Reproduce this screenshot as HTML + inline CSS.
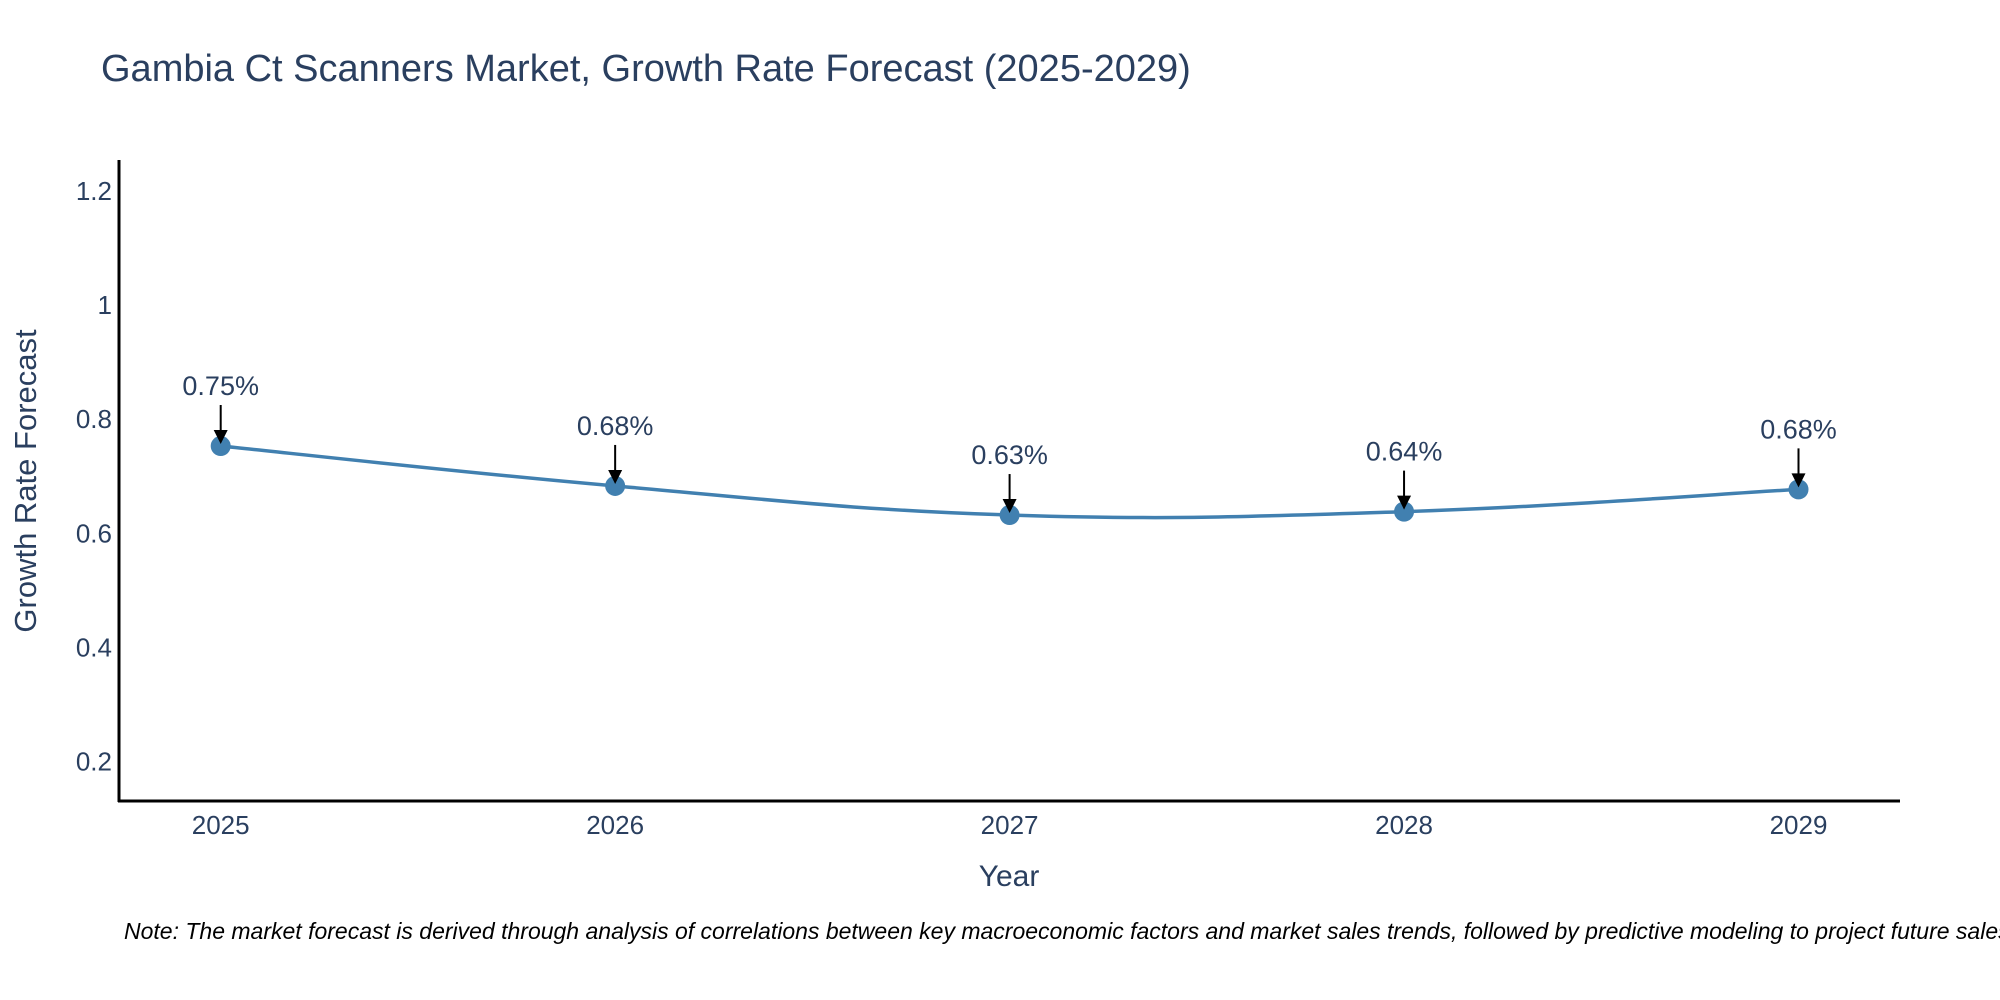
<!DOCTYPE html>
<html><head><meta charset="utf-8"><style>
body{margin:0;background:#fff;}
svg{display:block;font-family:"Liberation Sans","DejaVu Sans",sans-serif;}
</style></head><body>
<svg id="chart" width="2000" height="1000" viewBox="0 0 2000 1000">
<text x="101" y="81" font-size="38" fill="#2a3f5f">Gambia Ct Scanners Market, Growth Rate Forecast (2025-2029)</text>
<g id="yticks"></g>
<g id="xticks"></g>
<line x1="119" y1="160" x2="119" y2="802" stroke="#000" stroke-width="3"/>
<line x1="118" y1="801" x2="1900" y2="801" stroke="#000" stroke-width="3"/>
<text transform="translate(36,481) rotate(-90)" text-anchor="middle" font-size="31" fill="#2a3f5f">Growth Rate Forecast</text>
<text x="1009" y="886" text-anchor="middle" font-size="30" fill="#2a3f5f">Year</text>
<g id="series"></g>
<text x="124" y="939" font-size="23" font-style="italic" fill="#000">Note: The market forecast is derived through analysis of correlations between key macroeconomic factors and market sales trends, followed by predictive modeling to project future sales.</text>
</svg>
<script>
const years=[2025,2026,2027,2028,2029];
const values=[0.753,0.683,0.632,0.638,0.677];
const labels=["0.75%","0.68%","0.63%","0.64%","0.68%"];
const yTickValues=[0.2,0.4,0.6,0.8,1,1.2];
const yTickLabels=["0.2","0.4","0.6","0.8","1","1.2"];

const NS="http://www.w3.org/2000/svg";
function xs(v){return 220.7+(v-2025)*394.45;}
function ys(v){return 875.6-v*570.5;}
function mk(tag,attrs,parent){const e=document.createElementNS(NS,tag);for(const k in attrs)e.setAttribute(k,attrs[k]);parent.appendChild(e);return e;}

const yt=document.getElementById('yticks');
yTickValues.forEach((v,i)=>{
  const t=mk('text',{x:112,y:ys(v)+9,'text-anchor':'end','font-size':'26',fill:'#2a3f5f'},yt);
  
  
  t.textContent=yTickLabels[i];
});
const xt=document.getElementById('xticks');
years.forEach(y=>{
  const t=mk('text',{x:xs(y),y:834,'text-anchor':'middle','font-size':'26',fill:'#2a3f5f'},xt);
  
  
  t.textContent=String(y);
});

const g=document.getElementById('series');
const pts=years.map((y,i)=>[xs(y),ys(values[i])]);
let d="M"+pts[0][0]+","+pts[0][1];
const s=0.2;
for(let i=0;i<pts.length-1;i++){
  const p0=pts[Math.max(0,i-1)],p1=pts[i],p2=pts[i+1],p3=pts[Math.min(pts.length-1,i+2)];
  const c1=[p1[0]+(p2[0]-p0[0])*s,p1[1]+(p2[1]-p0[1])*s];
  const c2=[p2[0]-(p3[0]-p1[0])*s,p2[1]-(p3[1]-p1[1])*s];
  d+=" C"+c1[0]+","+c1[1]+" "+c2[0]+","+c2[1]+" "+p2[0]+","+p2[1];
}
const line=mk('path',{d:d,fill:'none',stroke:'#4180b0','stroke-width':'3.5'},g);



pts.forEach((p,i)=>{
  const c=mk('circle',{cx:p[0],cy:p[1],r:10,fill:'#4180b0'},g);
  
  
  const a=mk('line',{x1:p[0],y1:p[1]-41,x2:p[0],y2:p[1]-14,stroke:'#000','stroke-width':'2'},g);
  
  
  const h=mk('polygon',{points:(p[0]-7)+","+(p[1]-16)+" "+(p[0]+7)+","+(p[1]-16)+" "+p[0]+","+(p[1]-2),fill:'#000'},g);
  
  
  const t=mk('text',{x:p[0],y:p[1]-51,'text-anchor':'middle','font-size':'27',fill:'#2a3f5f'},g);
  
  
  t.textContent=labels[i];
});
</script>
</body></html>
